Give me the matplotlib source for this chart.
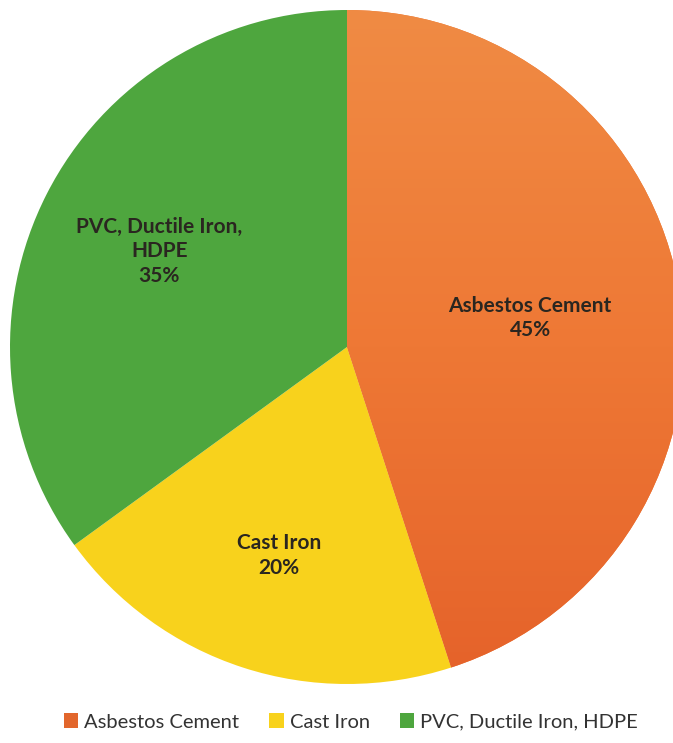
import matplotlib
matplotlib.use("Agg")
import matplotlib.pyplot as plt
import numpy as np
from matplotlib.colors import LinearSegmentedColormap
from matplotlib.patches import Patch

categories = ["Asbestos Cement", "Cast Iron", "PVC, Ductile Iron, HDPE"]
label_texts = ["Asbestos Cement", "Cast Iron", "PVC, Ductile Iron,\nHDPE"]
values = [45, 20, 35]
colors = ["#EC7533", "#F8D21C", "#4EA63E"]
label_radius = [0.55, 0.65, 0.625]

plt.rcParams['font.family'] = ['Lato', 'DejaVu Sans']

W, H = 673, 743
fig = plt.figure(figsize=(W / 100, H / 100), dpi=100)
cx, cy, r = 347, 347, 337
ax = fig.add_axes([(cx - r) / W, (H - cy - r) / H, 2 * r / W, 2 * r / H])

wedges, _ = ax.pie(values, colors=colors, startangle=90, counterclock=False,
                   radius=1.0, wedgeprops=dict(linewidth=0))
ax.set_xlim(-1, 1)
ax.set_ylim(-1, 1)
ax.set_aspect('auto')
ax.axis('off')

# gradient on the orange wedge (lighter at top, darker at bottom)
cmap = LinearSegmentedColormap.from_list("org", ["#E5622A", "#EE7835", "#F08B44"])
grad = np.linspace(0, 1, 256).reshape(-1, 1)
im = ax.imshow(grad, cmap=cmap, extent=[-1, 1, -1, 1], origin='lower',
               aspect='auto', zorder=wedges[0].get_zorder() + 0.1)
im.set_clip_path(wedges[0])

for w, txt, v, lr in zip(wedges, label_texts, values, label_radius):
    ang = np.deg2rad((w.theta1 + w.theta2) / 2)
    x, y = lr * np.cos(ang), lr * np.sin(ang)
    ax.text(x, y, f"{txt}\n{v}%", ha='center', va='center', fontsize=15,
            fontweight='bold', color='#2a2620', linespacing=1.3, zorder=5)

handles = [Patch(facecolor=c, edgecolor='none') for c in colors]
handles[0] = Patch(facecolor="#E2662C", edgecolor='none')
fig.legend(handles, categories, loc='center', bbox_to_anchor=(351 / W, 1 - 722 / H),
           ncol=3, frameon=False, fontsize=14.5, handlelength=0.7, handleheight=0.7,
           handletextpad=0.3, columnspacing=1.5, labelcolor='#333333')

fig.savefig("out.png", dpi=100, facecolor='white')
